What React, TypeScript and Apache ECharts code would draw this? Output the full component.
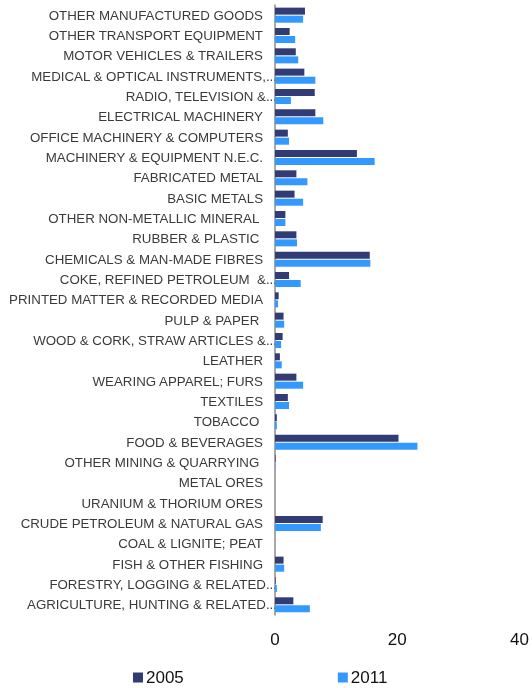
import React, { useEffect, useRef } from "react";
import * as echarts from "echarts";

const categories: string[] = [
  "OTHER MANUFACTURED GOODS",
  "OTHER TRANSPORT EQUIPMENT",
  "MOTOR VEHICLES & TRAILERS",
  "MEDICAL & OPTICAL INSTRUMENTS,...",
  "RADIO, TELEVISION &...",
  "ELECTRICAL MACHINERY",
  "OFFICE MACHINERY & COMPUTERS",
  "MACHINERY & EQUIPMENT N.E.C.",
  "FABRICATED METAL",
  "BASIC METALS",
  "OTHER NON-METALLIC MINERAL\u00a0",
  "RUBBER & PLASTIC\u00a0",
  "CHEMICALS & MAN-MADE FIBRES",
  "COKE, REFINED PETROLEUM \u00a0&...",
  "PRINTED MATTER & RECORDED MEDIA",
  "PULP & PAPER\u00a0",
  "WOOD & CORK, STRAW ARTICLES &...",
  "LEATHER",
  "WEARING APPAREL; FURS",
  "TEXTILES",
  "TOBACCO\u00a0",
  "FOOD & BEVERAGES",
  "OTHER MINING & QUARRYING\u00a0",
  "METAL ORES",
  "URANIUM & THORIUM ORES",
  "CRUDE PETROLEUM & NATURAL GAS",
  "COAL & LIGNITE; PEAT",
  "FISH & OTHER FISHING",
  "FORESTRY, LOGGING & RELATED...",
  "AGRICULTURE, HUNTING & RELATED...",
];

const values2005: number[] = [
  4.9, 2.4, 3.4, 4.8, 6.5, 6.6, 2.1, 13.4, 3.5, 3.2, 1.7, 3.5, 15.5, 2.3, 0.6,
  1.4, 1.25, 0.8, 3.5, 2.1, 0.3, 20.2, 0.1, 0, 0, 7.8, 0, 1.4, 0.1, 3.0,
];

const values2011: number[] = [
  4.6, 3.3, 3.8, 6.6, 2.6, 7.9, 2.3, 16.3, 5.3, 4.6, 1.7, 3.6, 15.6, 4.2, 0.5,
  1.5, 1.0, 1.1, 4.6, 2.3, 0.3, 23.3, 0.05, 0, 0, 7.5, 0, 1.5, 0.3, 5.7,
];

const seriesNames: string[] = ["2005", "2011"];

export default function App() {
  const ref = useRef<HTMLDivElement>(null);
  useEffect(() => {
    if (!ref.current) return;
    const chart = echarts.init(ref.current, undefined, { renderer: "svg" });
    chart.setOption({
      animation: false,
      textStyle: { fontFamily: "'Liberation Sans', Arial, sans-serif" },
      grid: { left: 275, right: 12, top: 5, bottom: 73, containLabel: false },
      legend: {
        data: seriesNames,
        left: 128,
        top: 664,
        padding: 5,
        itemWidth: 10,
        itemHeight: 10,
        itemGap: 154,
        icon: "rect",
        textStyle: { fontSize: 17, color: "#111", padding: [0, 0, 0, -2] },
      },
      xAxis: {
        type: "value",
        min: 0,
        max: 40,
        interval: 20,
        axisLine: { show: false },
        axisTick: { show: false },
        splitLine: { show: false },
        axisLabel: { fontSize: 17, color: "#111", margin: 16 },
      },
      yAxis: {
        type: "category",
        inverse: true,
        data: categories,
        axisLine: { show: true, lineStyle: { color: "#8c8c8c", width: 1.5 } },
        axisTick: { show: false },
        axisLabel: {
          fontSize: 13.3,
          color: "#3a3a3a",
          margin: -2,
          interval: 0,
          formatter: (v: string) => (v.endsWith("...") ? v : v + "{p|}"),
          rich: { p: { width: 14, fontSize: 13.3 } },
        },
      },
      series: [
        {
          name: "2005",
          type: "bar",
          data: values2005,
          barWidth: 7,
          barGap: "15%",
          itemStyle: { color: "#333b74" },
        },
        {
          name: "2011",
          type: "bar",
          data: values2011,
          barWidth: 7,
          barGap: "15%",
          itemStyle: { color: "#3399ff" },
        },
      ],
    });
    return () => chart.dispose();
  }, []);
  return (
    <div
      ref={ref}
      style={{ position: "fixed", left: 0, top: 0, width: 532, height: 688 }}
    />
  );
}
